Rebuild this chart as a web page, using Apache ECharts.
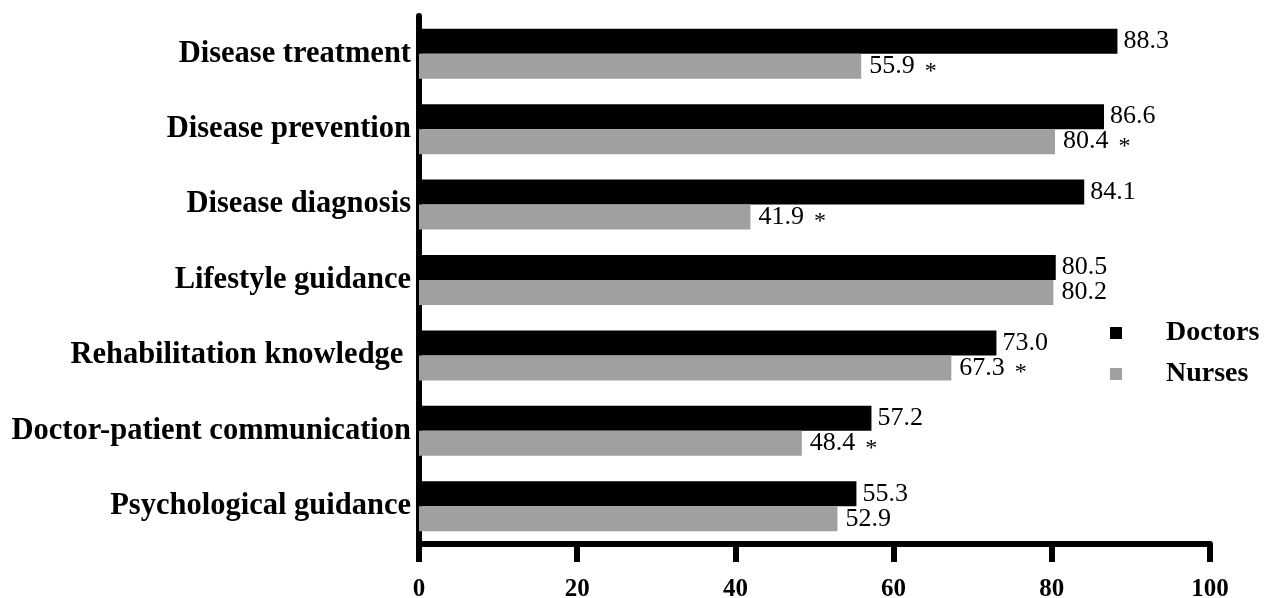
<!DOCTYPE html>
<html>
<head>
<meta charset="utf-8">
<script src="https://cdn.jsdelivr.net/npm/echarts@6/dist/echarts.min.js"></script>
<style>
  html, body { margin: 0; padding: 0; background: #fff; }
  #chart { width: 1271px; height: 598px; }
</style>
</head>
<body>
<div id="chart"></div>
<script>
// Knowledge areas, top to bottom
const categories = [
  'Disease treatment',
  'Disease prevention',
  'Disease diagnosis',
  'Lifestyle guidance',
  'Rehabilitation knowledge ',
  'Doctor-patient communication',
  'Psychological guidance'
];
const doctors = [88.3, 86.6, 84.1, 80.5, 73.0, 57.2, 55.3];
const nurses  = [55.9, 80.4, 41.9, 80.2, 67.3, 48.4, 52.9];
// significant difference between groups (marked with *)
const significant = [true, true, true, false, true, true, false];
const xTicks = [0, 20, 40, 60, 80, 100];

const SERIF = '"Liberation Serif", "Times New Roman", serif';

const chart = echarts.init(document.getElementById('chart'));

chart.setOption({
  animation: false,
  backgroundColor: '#ffffff',
  textStyle: { fontFamily: SERIF },
  grid: {
    left: 419, right: 61, top: 16, bottom: 54,
    containLabel: false,
    outerBoundsMode: 'none'
  },
  legend: {
    orient: 'vertical',
    left: 1110,
    top: 318,
    padding: 0,
    itemGap: 11,
    itemWidth: 12,
    itemHeight: 12,
    icon: 'rect',
    data: ['Doctors', 'Nurses'],
    textStyle: {
      fontFamily: SERIF,
      fontWeight: 'bold',
      fontSize: 28,
      lineHeight: 30,
      color: '#000',
      padding: [0, 0, 0, 39]
    }
  },
  xAxis: {
    type: 'value',
    min: xTicks[0],
    max: xTicks[xTicks.length - 1],
    interval: 20,
    splitLine: { show: false },
    axisLine: { show: true, lineStyle: { color: '#000', width: 6 } },
    axisTick: { show: true, length: 18, lineStyle: { color: '#000', width: 6 } },
    axisLabel: {
      margin: 33,
      fontFamily: SERIF,
      fontWeight: 'bold',
      fontSize: 25,
      color: '#000',
      formatter: v => xTicks.includes(v) ? String(v) : ''
    }
  },
  yAxis: {
    type: 'category',
    data: categories,
    inverse: true,
    axisLine: { show: true, lineStyle: { color: '#000', width: 6 } },
    axisTick: { show: false },
    axisLabel: {
      margin: 8,
      fontFamily: SERIF,
      fontWeight: 'bold',
      fontSize: 30.5,
      padding: [9, 0, 0, 0],
      color: '#000'
    }
  },
  series: [
    {
      name: 'Doctors',
      type: 'bar',
      data: doctors,
      barWidth: 25,
      barGap: '0%',
      itemStyle: { color: '#000000' },
      label: {
        show: true,
        position: 'right',
        distance: 6,
        fontFamily: SERIF,
        fontSize: 26,
        color: '#000',
        formatter: p => p.value.toFixed(1)
      }
    },
    {
      name: 'Nurses',
      type: 'bar',
      data: nurses,
      barWidth: 25,
      barGap: '0%',
      itemStyle: { color: '#a0a0a0' },
      label: {
        show: true,
        position: 'right',
        distance: 8,
        fontFamily: SERIF,
        fontSize: 26,
        color: '#000',
        formatter: p => p.value.toFixed(1) + (significant[p.dataIndex] ? '{star|*}' : ''),
        rich: {
          star: {
            fontFamily: SERIF,
            fontSize: 24,
            lineHeight: 16,
            padding: [10, 0, 0, 10],
            color: '#000'
          }
        }
      }
    }
  ]
});
</script>
</body>
</html>
